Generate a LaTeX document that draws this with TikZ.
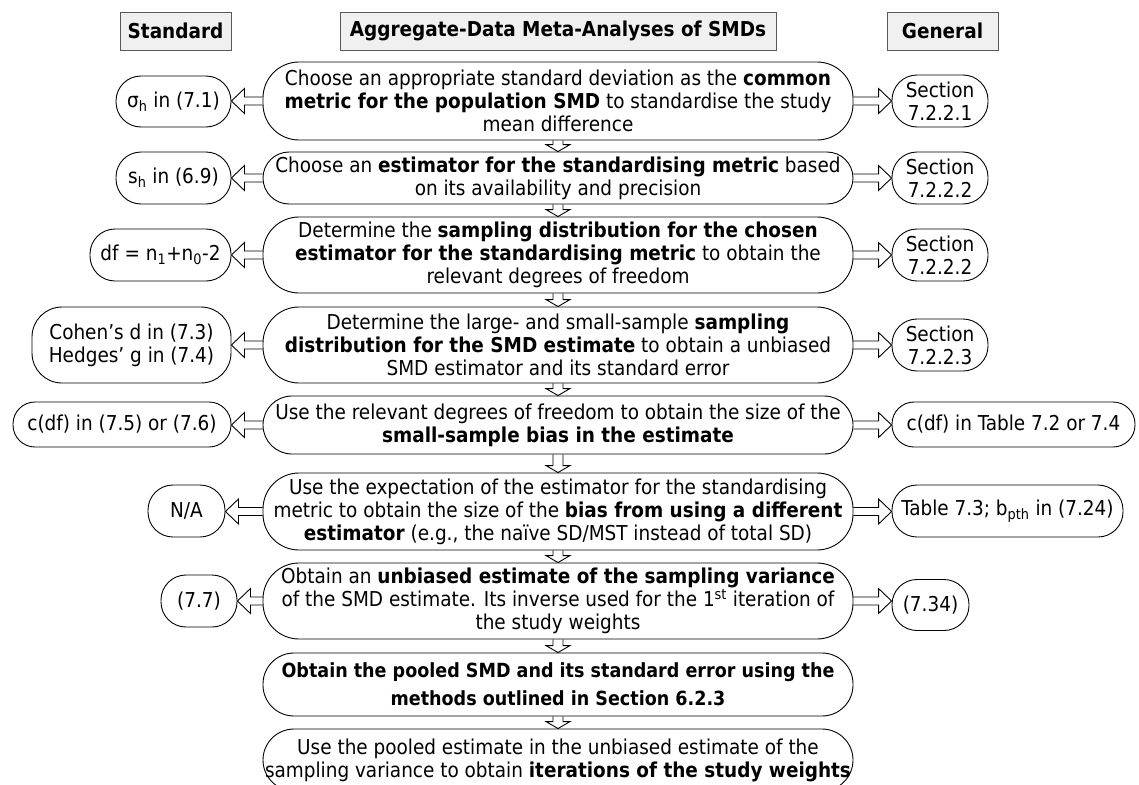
\documentclass[tikz,border=0pt]{standalone}
\usepackage{fontspec}
\setmainfont{DejaVu Sans Condensed}
\usetikzlibrary{calc}

\newcommand\fs{\fontsize{20.5}{23}\selectfont}
\newcommand\fsb{\fontsize{19.5}{28}\selectfont}

% hollow block arrows, drawn from node to node
\newcommand\leftblock[2]{%
  \draw[blockarrow] let \p1=(#1.west), \p2=(#2.east) in
    (\x1,\y1+4pt) -- (\x2+13pt,\y1+4pt) -- (\x2+13pt,\y1+12.5pt) -- (\x2,\y1)
    -- (\x2+13pt,\y1-12.5pt) -- (\x2+13pt,\y1-4pt) -- (\x1,\y1-4pt);}
\newcommand\rightblock[2]{%
  \draw[blockarrow] let \p1=(#1.east), \p2=(#2.west) in
    (\x1,\y1+4pt) -- (\x2-13pt,\y1+4pt) -- (\x2-13pt,\y1+12.5pt) -- (\x2,\y1)
    -- (\x2-13pt,\y1-12.5pt) -- (\x2-13pt,\y1-4pt) -- (\x1,\y1-4pt);}
\newcommand\downblock[2]{%
  \draw[blockarrow] let \p1=(#1.south), \p2=(#2.north) in
    (\x1-5pt,\y1) -- (\x1-5pt,\y2+7pt) -- (\x1-12pt,\y2+7pt) -- (\x1,\y2)
    -- (\x1+12pt,\y2+7pt) -- (\x1+5pt,\y2+7pt) -- (\x1+5pt,\y1);}

\begin{document}
\begin{tikzpicture}[x=1pt,y=-1pt,
  hdr/.style={draw=black!65, fill=black!6, line width=0.8pt, inner sep=0pt,
    minimum height=38pt, font=\fs\bfseries},
  mainbox/.style={draw, line width=0.9pt, rounded corners=#1, inner sep=0pt,
    minimum width=590pt, align=center, font=\fs},
  mainbox/.default=26pt,
  sidebox/.style={draw, line width=0.9pt, rounded corners=25pt, inner sep=0pt,
    align=center, font=\fs},
  blockarrow/.style={draw, line width=0.9pt, line join=miter}]
\useasboundingbox (0,0) rectangle (1139,784);

% column headings
\node[hdr, minimum width=111pt] (hstd) at (175.5,31) {Standard};
\node[hdr, minimum width=436pt] (hagg) at (558,31) {Aggregate-Data Meta-Analyses of SMDs};
\node[hdr, minimum width=111pt] (hgen) at (942.5,31) {General};

% main steps
\node[mainbox=36pt, minimum height=78pt] (m1) at (558,101)
  {Choose an appropriate standard deviation as the \textbf{common}\\
   \textbf{metric for the population SMD} to standardise the study\\
   mean difference};
\node[mainbox, minimum height=52pt] (m2) at (558,178)
  {Choose an \textbf{estimator for the standardising metric} based\\
   on its availability and precision};
\node[mainbox=36pt, minimum height=76pt] (m3) at (558,255)
  {Determine the \textbf{sampling distribution for the chosen}\\
   \textbf{estimator for the standardising metric} to obtain the\\
   relevant degrees of freedom};
\node[mainbox=36pt, minimum height=76pt] (m4) at (558,345)
  {Determine the large- and small-sample \textbf{sampling}\\
   \textbf{distribution for the SMD estimate} to obtain a unbiased\\
   SMD estimator and its standard error};
\node[mainbox=29pt, minimum height=58pt] (m5) at (558,425)
  {Use the relevant degrees of freedom to obtain the size of the\\
   \textbf{small-sample bias in the estimate}};
\node[mainbox=36pt, minimum height=77pt] (m6) at (558,511.5)
  {Use the expectation of the estimator for the standardising\\
   metric to obtain the size of the \textbf{bias from using a different}\\
   \textbf{estimator} (e.g., the naïve SD/MST instead of total SD)};
\node[mainbox=36pt, minimum height=76pt] (m7) at (558,601)
  {Obtain an \textbf{unbiased estimate of the sampling variance}\\
   of the SMD estimate. Its inverse used for the 1\textsuperscript{st} iteration of\\
   the study weights};
\node[mainbox=31pt, minimum height=63pt, font=\fsb\bfseries] (m8) at (558,684.5)
  {Obtain the pooled SMD and its standard error using the\\
   methods outlined in Section 6.2.3};
\node[mainbox=31pt, minimum height=62pt] (m9) at (558,760)
  {Use the pooled estimate in the unbiased estimate of the\\
   sampling variance to obtain \textbf{iterations of the study weights}};

% standard results
\node[sidebox, minimum width=115pt, minimum height=51pt] (l1) at (173.5,101.5) {σ\textsubscript{h} in (7.1)};
\node[sidebox, minimum width=115pt, minimum height=52pt] (l2) at (173.5,178) {s\textsubscript{h} in (6.9)};
\node[sidebox, minimum width=141pt, minimum height=52pt] (l3) at (160.5,255) {df = n\textsubscript{1}+n\textsubscript{0}-2};
\node[sidebox, minimum width=199pt, minimum height=76pt, rounded corners=30pt] (l4) at (131.5,345) {Cohen’s d in (7.3)\\ Hedges’ g in (7.4)};
\node[sidebox, minimum width=218pt, minimum height=45pt, rounded corners=22pt] (l5) at (122,424.5) {c(df) in (7.5) or (7.6)};
\node[sidebox, minimum width=77pt, minimum height=52pt] (l6) at (186.5,511) {N/A};
\node[sidebox, minimum width=76pt, minimum height=52pt] (l7) at (199,601) {(7.7)};

% general results
\node[sidebox, minimum width=96pt, minimum height=52pt] (r1) at (940,101) {Section\\ 7.2.2.1};
\node[sidebox, minimum width=96pt, minimum height=52pt] (r2) at (940,178) {Section\\ 7.2.2.2};
\node[sidebox, minimum width=96pt, minimum height=52pt] (r3) at (940,255) {Section\\ 7.2.2.2};
\node[sidebox, minimum width=96pt, minimum height=52pt] (r4) at (940,345) {Section\\ 7.2.2.3};
\node[sidebox, minimum width=243pt, minimum height=45pt, rounded corners=22pt] (r5) at (1013.5,424.5) {c(df) in Table 7.2 or 7.4};
\node[sidebox, minimum width=231pt, minimum height=52pt] (r6) at (1007.5,511) {Table 7.3; b\textsubscript{pth} in (7.24)};
\node[sidebox, minimum width=77pt, minimum height=51pt] (r7) at (930.5,605) {(7.34)};

% connectors
\leftblock{m1}{l1} \leftblock{m2}{l2} \leftblock{m3}{l3} \leftblock{m4}{l4}
\leftblock{m5}{l5} \leftblock{m6}{l6} \leftblock{m7}{l7}
\rightblock{m1}{r1} \rightblock{m2}{r2} \rightblock{m3}{r3} \rightblock{m4}{r4}
\rightblock{m5}{r5} \rightblock{m6}{r6} \rightblock{m7}{r7}
\downblock{m1}{m2} \downblock{m2}{m3} \downblock{m3}{m4} \downblock{m4}{m5}
\downblock{m5}{m6} \downblock{m6}{m7} \downblock{m7}{m8} \downblock{m8}{m9}
\end{tikzpicture}
\end{document}
